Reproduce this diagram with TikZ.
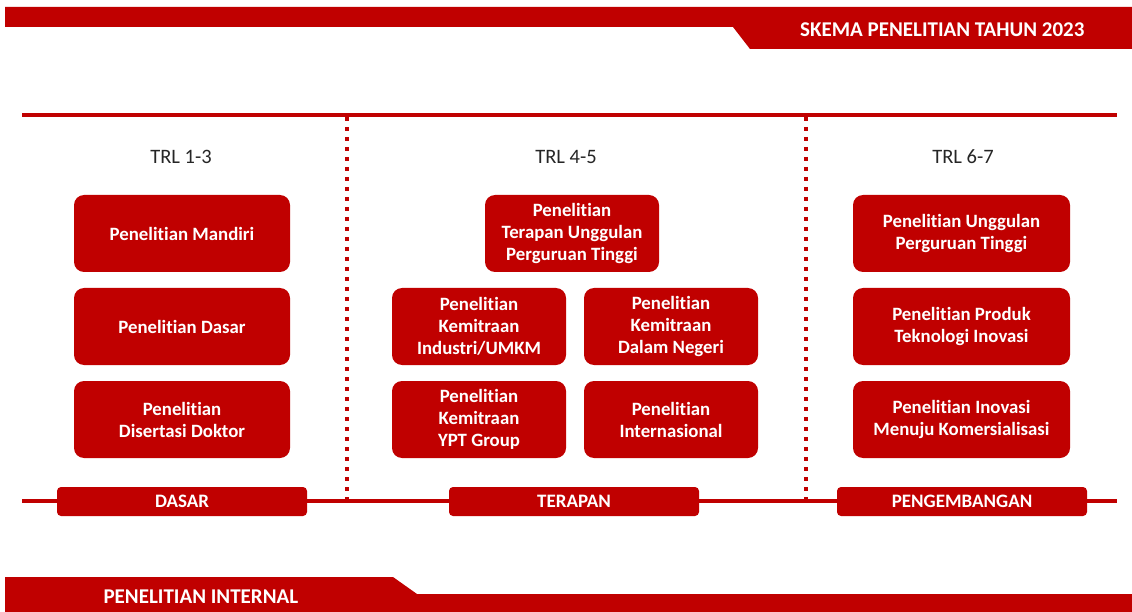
\documentclass[tikz,border=0pt]{standalone}
\usepackage{fontspec}
\setmainfont{Carlito}[Ligatures=NoCommon]
\definecolor{rd}{RGB}{192,0,0}
\begin{document}
\begin{tikzpicture}[x=1pt,y=-1pt,
  box/.style={fill=rd,rounded corners=10pt,text=white,font=\fontsize{18.8}{22}\selectfont\bfseries,align=center,inner sep=0pt},
  tag/.style={fill=rd,rounded corners=4pt,text=white,font=\fontsize{19}{20}\selectfont\bfseries,inner sep=0pt},
  trl/.style={font=\fontsize{20.5}{22}\selectfont,text=black!85}]
\useasboundingbox (0,0) rectangle (1132,612);
% banners
\fill[rd] (5,7) -- (1132,7) -- (1132,49) -- (750,49) -- (733,27) -- (5,27) -- cycle;
\node[font=\fontsize{21}{22}\selectfont\bfseries,text=white,anchor=east] (title) at (1088,30) {SKEMA PENELITIAN TAHUN 2023};
\fill[rd] (5,577) -- (393,577) -- (417,594) -- (1132,594) -- (1132,612) -- (5,612) -- cycle;
\node[font=\fontsize{21}{22}\selectfont\bfseries,text=white,anchor=west] (internal) at (100,597) {PENELITIAN INTERNAL};
% lines
\coordinate (tl) at (22,115); \coordinate (tr) at (1117,115);
\coordinate (bl) at (22,501); \coordinate (br) at (1117,501);
\draw[rd,line width=4pt] (tl) -- (tr);
\draw[rd,line width=3.5pt] (bl) -- (br);
\coordinate (d1t) at (347,117); \coordinate (d1b) at (347,499);
\coordinate (d2t) at (806,117); \coordinate (d2b) at (806,499);
\draw[rd,line width=4pt,dash pattern=on 4pt off 6pt] (d1t) -- (d1b);
\draw[rd,line width=4pt,dash pattern=on 4pt off 6pt] (d2t) -- (d2b);
% TRL labels
\node[trl] (t1) at (181,157) {TRL 1-3};
\node[trl] (t2) at (566,157) {TRL 4-5};
\node[trl] (t3) at (963,157) {TRL 6-7};
% column 1
\node[box,minimum width=216pt,minimum height=77pt] (a1) at (182,233.5) {Penelitian Mandiri};
\node[box,minimum width=216pt,minimum height=77pt] (a2) at (182,326.5) {Penelitian Dasar};
\node[box,minimum width=216pt,minimum height=77pt] (a3) at (182,419.5) {Penelitian\\Disertasi Doktor};
% column 2
\node[box,minimum width=174pt,minimum height=77pt] (b1) at (572,233.5) {Penelitian\\Terapan Unggulan\\Perguruan Tinggi};
\node[box,minimum width=174pt,minimum height=77pt] (b2) at (479,326.5) {Penelitian\\Kemitraan\\Industri/UMKM};
\node[box,minimum width=174pt,minimum height=77pt] (b3) at (671,326.5) {Penelitian\\Kemitraan\\Dalam Negeri};
\node[box,minimum width=174pt,minimum height=77pt] (b4) at (479,419.5) {Penelitian\\Kemitraan\\YPT Group};
\node[box,minimum width=174pt,minimum height=77pt] (b5) at (671,419.5) {Penelitian\\Internasional};
% column 3
\node[box,minimum width=217pt,minimum height=77pt] (c1) at (961.5,233.5) {Penelitian Unggulan\\Perguruan Tinggi};
\node[box,minimum width=217pt,minimum height=77pt] (c2) at (961.5,326.5) {Penelitian Produk\\Teknologi Inovasi};
\node[box,minimum width=217pt,minimum height=77pt] (c3) at (961.5,419.5) {Penelitian Inovasi\\Menuju Komersialisasi};
% tags
\node[tag,minimum width=250pt,minimum height=29pt] (g1) at (182,501.5) {DASAR};
\node[tag,minimum width=250pt,minimum height=29pt] (g2) at (574,501.5) {TERAPAN};
\node[tag,minimum width=250pt,minimum height=29pt] (g3) at (962,501.5) {PENGEMBANGAN};
\end{tikzpicture}
\end{document}
